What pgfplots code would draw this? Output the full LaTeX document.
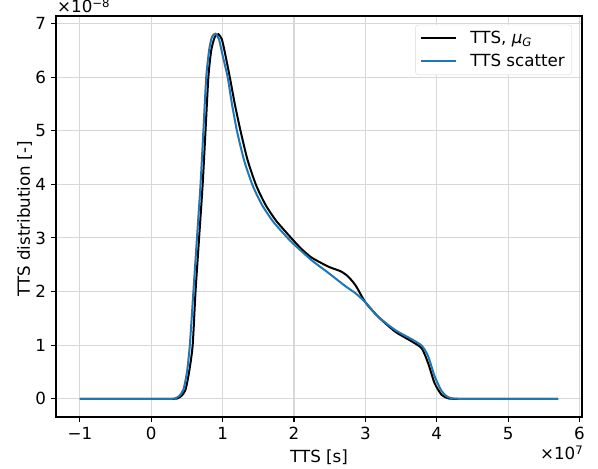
\documentclass[border=0pt]{standalone}
\usepackage{fontspec}
\setmainfont{DejaVu Sans}
\usepackage{pgfplots}
\pgfplotsset{compat=1.18}
\definecolor{mplblue}{HTML}{1F77B4}
\definecolor{gridc}{HTML}{D8D8D8}
\begin{document}
\fontsize{16.7pt}{20pt}\selectfont
\begin{tikzpicture}
\begin{axis}[
  at={(0,0)}, anchor=south west,
  width=526pt, height=401pt, scale only axis,
  xmin=-1.335, xmax=6.035, ymin=-0.34, ymax=7.14,
  xtick={-1,0,1,2,3,4,5,6},
  xticklabels={−1,0,1,2,3,4,5,6},
  ytick={0,1,2,3,4,5,6,7},
  yticklabels={0,1,2,3,4,5,6,7},
  tick align=outside, tick pos=left,
  major tick length=4.9pt,
  every tick/.style={black, line width=1.1pt},
  axis line style={line width=1.1pt},
  grid=major, grid style={gridc, line width=1.1pt},
  tick label style={font=\fontsize{16.7pt}{20pt}\selectfont, inner sep=0pt},
  xticklabel style={yshift=-4.9pt},
  yticklabel style={xshift=-4.9pt},
  legend style={at={(0.981,0.978)}, anchor=north east, draw=gridc, rounded corners=3pt,
    fill=white, font=\fontsize{16.7pt}{20pt}\selectfont, inner xsep=5pt, inner ysep=4pt,
    row sep=4pt, column sep=11pt, nodes={inner sep=2pt}},
  legend cell align=left,
  legend image code/.code={\draw[#1] (0pt,0pt) -- (35pt,0pt);},
  clip=true,
]
\addplot[black, line width=2pt, smooth, tension=0.4] coordinates {
(-1,0) (0,0) (0.3,0) (0.36,0.005) (0.42,0.05) (0.48,0.17) (0.53,0.5) (0.58,1.0) (0.62,2.0) (0.67,3.0) (0.72,4.0) (0.76,5.0) (0.80,6.0) (0.84,6.5) (0.89,6.75) (0.94,6.8) (0.99,6.7) (1.04,6.4) (1.10,6.0) (1.17,5.5) (1.25,5.0) (1.35,4.45) (1.47,3.98) (1.6,3.62) (1.75,3.32) (1.96,3.0) (2.1,2.8) (2.25,2.63) (2.49,2.46) (2.65,2.38) (2.75,2.29) (2.86,2.12) (3.0,1.80) (3.18,1.53) (3.42,1.25) (3.65,1.07) (3.79,0.94) (3.88,0.66) (3.97,0.29) (4.07,0.07) (4.16,0.01) (4.25,0) (5,0) (5.7,0)
};
\addlegendentry{TTS, {\itshape μ}\textsubscript{\itshape G}}
\addplot[mplblue, line width=2pt, smooth, tension=0.4] coordinates {
(-1,0) (0,0) (0.27,0) (0.33,0.005) (0.39,0.05) (0.45,0.17) (0.50,0.5) (0.54,1.0) (0.59,2.0) (0.64,3.0) (0.69,4.0) (0.73,5.0) (0.77,6.0) (0.81,6.5) (0.85,6.75) (0.90,6.81) (0.95,6.7) (1.00,6.4) (1.07,6.0) (1.13,5.5) (1.20,5.0) (1.30,4.45) (1.42,3.98) (1.55,3.62) (1.71,3.3) (1.91,3.0) (2.0,2.88) (2.25,2.58) (2.49,2.34) (2.72,2.10) (2.86,1.97) (3.0,1.80) (3.18,1.53) (3.42,1.28) (3.65,1.11) (3.79,0.99) (3.88,0.79) (3.97,0.42) (4.07,0.14) (4.16,0.03) (4.3,0) (5,0) (5.7,0)
};
\addlegendentry{TTS scatter}
\end{axis}
\node[anchor=base west, inner sep=0pt] at (1pt,404pt) {×10\raisebox{5pt}{\fontsize{11.7pt}{13pt}\selectfont −8}};
\node[anchor=base east, inner sep=0pt] at (527pt,-43pt) {×10\raisebox{5pt}{\fontsize{11.7pt}{13pt}\selectfont 7}};
\node[anchor=base, inner sep=0pt] at (263pt,-46pt) {TTS [s]};
\node[rotate=90, anchor=north, inner sep=0pt] at (-39pt,198pt) {TTS distribution [-]};
\pgfresetboundingbox
\path (-56pt,-52pt) rectangle (542pt,417pt);
\end{tikzpicture}
\end{document}
